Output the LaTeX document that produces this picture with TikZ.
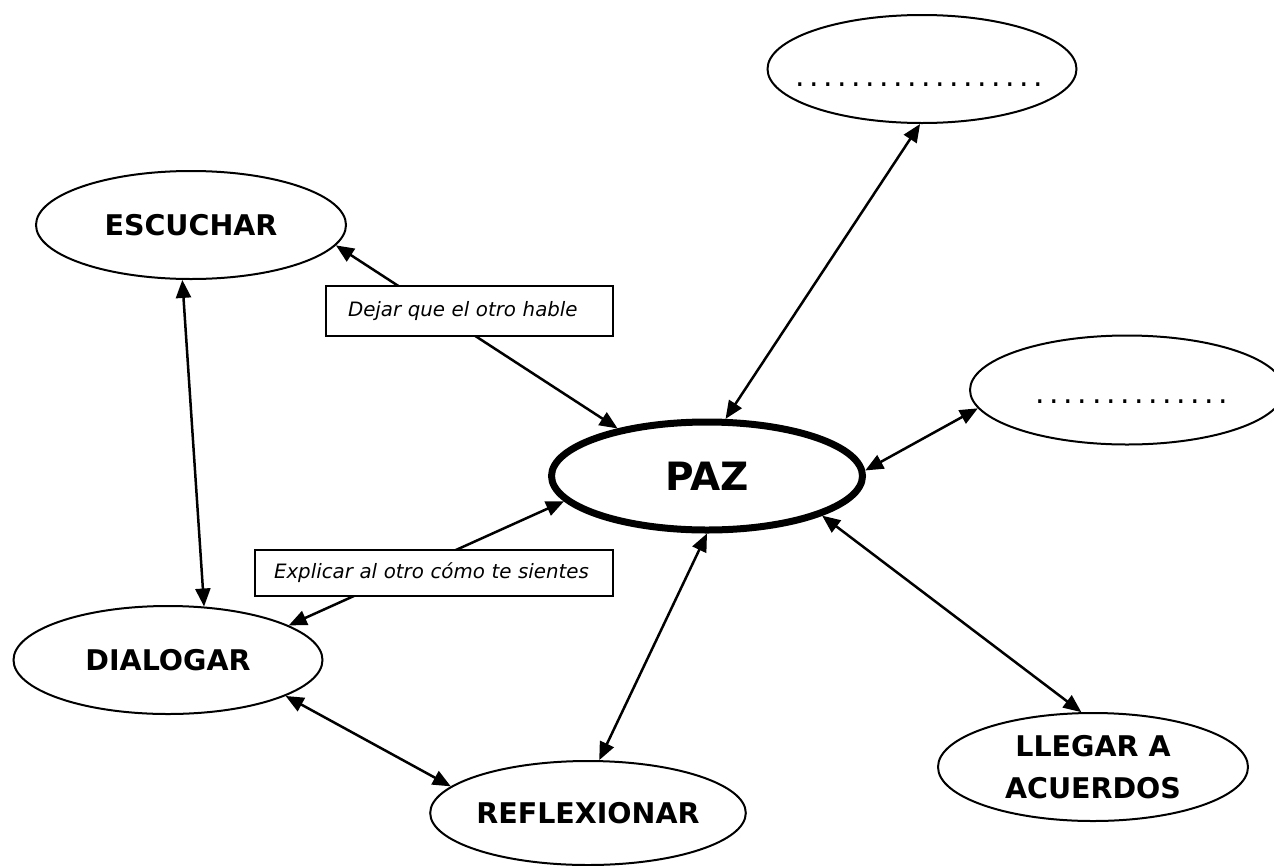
\documentclass[tikz,border=0pt]{standalone}
\usepackage{fontspec}
\setmainfont{DejaVu Sans}
\usetikzlibrary{shapes.geometric,arrows.meta}
\begin{document}
\begin{tikzpicture}[x=1pt,y=-1pt,
  oval/.style={ellipse,draw,line width=2pt,inner sep=0pt,align=center,
    minimum width=310pt,minimum height=108pt,
    font=\bfseries\fontsize{28.5}{42}\selectfont},
  lbl/.style={draw,fill=white,line width=2pt,inner ysep=0pt,
    align=left,anchor=west,font=\itshape\fontsize{19.8}{24}\selectfont},
  dotrow/.style={inner sep=0pt,font=\fontsize{30}{30}\selectfont},
  link/.style={{Triangle[length=18pt,width=15pt]}-{Triangle[length=18pt,width=15pt]},line width=2.5pt}]
\useasboundingbox (0,0) rectangle (1274,865);
\clip (0,0) rectangle (1274,865);
\fill[white] (0,0) rectangle (1274,865);

% ellipses
\node[oval,line width=7pt,minimum width=311pt,minimum height=108pt,
  font=\bfseries\fontsize{39}{44}\selectfont] (paz) at (707,476) {PAZ};
\node[oval] (esc) at (191,225) {ESCUCHAR};
\node[oval,minimum width=309pt] (dia) at (168,660) {DIALOGAR};
\node[oval,minimum width=309pt,minimum height=104pt] (refl) at (588,813) {REFLEXIONAR};
\node[oval] (lleg) at (1093,767) {LLEGAR A\\ACUERDOS};
\node[oval,minimum width=309pt] (topov) at (922,69) {};
\node[oval,minimum width=314pt,minimum height=109pt] (rgt) at (1127,390) {};

% dotted blanks
\node[dotrow] (topdots) at (919,85) {\makebox[252pt]{\leaders\hbox to 14pt{\hss.\hss}\hfill}};
\node[dotrow] (rgtdots) at (1132,402) {\makebox[197pt]{\leaders\hbox to 14.07pt{\hss.\hss}\hfill}};

% connectors
\draw[link] (esc.-8.4) -- (paz.152.4);
\draw[link] (esc.-99.5) -- (dia.56.6);
\draw[link] (paz.-170.4) -- (dia.16.5);
\draw[link] (dia.-17.1) -- (refl.169.5);
\draw[link] (paz.-90) -- (refl.78.3);
\draw[link] (paz.72.2) -- (topov.-92);
\draw[link] (paz.2.8) -- (rgt.-173);
\draw[link] (paz.-19.5) -- (lleg.102.8);

% labels on connectors
\node[lbl,inner xsep=22pt,text width=243pt,minimum height=50pt] (dejar) at (325,311) {Dejar que el otro hable};
\node[lbl,inner xsep=19pt,text width=320pt,minimum height=46pt] (explicar) at (254,573) {Explicar al otro cómo te sientes};
\end{tikzpicture}
\end{document}
